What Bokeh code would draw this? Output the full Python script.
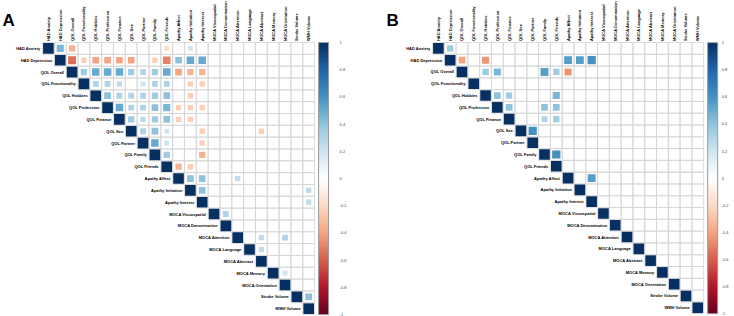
import numpy as np
from bokeh.plotting import figure
from bokeh.layouts import row
from bokeh.models import (ColumnDataSource, LinearColorMapper, ColorBar, FixedTicker,
                          Label, Range1d, CustomJSTickFormatter)
from bokeh.core.properties import value
from bokeh.embed import file_html
from bokeh.resources import INLINE

# ---------------- data ----------------
VARIABLES = ["HAD Anxiety", "HAD Depression", "QOL Overall", "QOL Functionality",
             "QOL Hobbies", "QOL Profession", "QOL Finance", "QOL Sex", "QOL Partner",
             "QOL Family", "QOL Friends", "Apathy Affect", "Apathy Initiation",
             "Apathy Interest", "MOCA Visuospatial", "MOCA Denomination", "MOCA Attention",
             "MOCA Language", "MOCA Abstract", "MOCA Memory", "MOCA Orientation",
             "Stroke Volume", "WMH Volume"]

# significant correlations (row variable, column variable, r) - panel A
A_CORR = [
    ("HAD Anxiety", "HAD Depression", 0.45), ("HAD Anxiety", "QOL Overall", -0.35),
    ("HAD Anxiety", "QOL Friends", -0.2), ("HAD Anxiety", "Apathy Initiation", 0.2),
    ("HAD Depression", "QOL Overall", -0.55), ("HAD Depression", "QOL Functionality", -0.25),
    ("HAD Depression", "QOL Hobbies", -0.4), ("HAD Depression", "QOL Profession", -0.4),
    ("HAD Depression", "QOL Finance", -0.4), ("HAD Depression", "QOL Sex", -0.4),
    ("HAD Depression", "QOL Family", -0.25), ("HAD Depression", "QOL Friends", -0.5),
    ("HAD Depression", "Apathy Affect", 0.4), ("HAD Depression", "Apathy Initiation", 0.5),
    ("HAD Depression", "Apathy Interest", 0.5),
    ("QOL Overall", "QOL Functionality", 0.35), ("QOL Overall", "QOL Hobbies", 0.5),
    ("QOL Overall", "QOL Profession", 0.5), ("QOL Overall", "QOL Finance", 0.5),
    ("QOL Overall", "QOL Sex", 0.35), ("QOL Overall", "QOL Partner", 0.3),
    ("QOL Overall", "QOL Family", 0.35), ("QOL Overall", "QOL Friends", 0.5),
    ("QOL Overall", "Apathy Affect", -0.4), ("QOL Overall", "Apathy Initiation", -0.35),
    ("QOL Overall", "Apathy Interest", -0.35),
    ("QOL Functionality", "QOL Hobbies", 0.3), ("QOL Functionality", "QOL Profession", 0.3),
    ("QOL Functionality", "QOL Finance", 0.25), ("QOL Functionality", "QOL Partner", 0.2),
    ("QOL Functionality", "QOL Family", 0.3), ("QOL Functionality", "QOL Friends", 0.3),
    ("QOL Functionality", "Apathy Initiation", -0.25), ("QOL Functionality", "Apathy Interest", -0.25),
    ("QOL Hobbies", "QOL Profession", 0.4), ("QOL Hobbies", "QOL Finance", 0.3),
    ("QOL Hobbies", "QOL Sex", 0.3), ("QOL Hobbies", "QOL Partner", 0.3),
    ("QOL Hobbies", "QOL Family", 0.35), ("QOL Hobbies", "QOL Friends", 0.4),
    ("QOL Hobbies", "Apathy Initiation", -0.25),
    ("QOL Profession", "QOL Finance", 0.5), ("QOL Profession", "QOL Sex", 0.3),
    ("QOL Profession", "QOL Partner", 0.3), ("QOL Profession", "QOL Family", 0.4),
    ("QOL Profession", "QOL Friends", 0.45), ("QOL Profession", "Apathy Affect", -0.25),
    ("QOL Profession", "Apathy Initiation", -0.25), ("QOL Profession", "Apathy Interest", -0.25),
    ("QOL Finance", "QOL Sex", 0.35), ("QOL Finance", "QOL Partner", 0.25),
    ("QOL Finance", "QOL Family", 0.35), ("QOL Finance", "QOL Friends", 0.4),
    ("QOL Finance", "Apathy Affect", -0.25), ("QOL Finance", "Apathy Initiation", -0.25),
    ("QOL Sex", "QOL Partner", 0.3), ("QOL Sex", "QOL Family", 0.4),
    ("QOL Sex", "QOL Friends", 0.2), ("QOL Sex", "Apathy Interest", -0.25),
    ("QOL Sex", "MOCA Abstract", -0.25),
    ("QOL Partner", "QOL Family", 0.5), ("QOL Partner", "QOL Friends", 0.2),
    ("QOL Partner", "Apathy Interest", -0.25),
    ("QOL Family", "QOL Friends", 0.35), ("QOL Family", "Apathy Interest", -0.35),
    ("QOL Friends", "Apathy Affect", -0.35), ("QOL Friends", "Apathy Initiation", -0.25),
    ("Apathy Affect", "Apathy Initiation", 0.4), ("Apathy Affect", "Apathy Interest", 0.4),
    ("Apathy Affect", "MOCA Attention", 0.25),
    ("Apathy Initiation", "Apathy Interest", 0.4), ("Apathy Initiation", "WMH Volume", 0.25),
    ("Apathy Interest", "WMH Volume", 0.25),
    ("MOCA Visuospatial", "MOCA Denomination", 0.3),
    ("MOCA Attention", "MOCA Abstract", 0.25), ("MOCA Attention", "MOCA Orientation", 0.3),
    ("MOCA Language", "MOCA Abstract", 0.25),
    ("MOCA Memory", "MOCA Orientation", 0.2),
    ("Stroke Volume", "WMH Volume", 0.4),
]

# significant correlations - panel B
B_CORR = [
    ("HAD Anxiety", "HAD Depression", 0.35),
    ("HAD Depression", "QOL Overall", -0.4), ("HAD Depression", "QOL Hobbies", -0.45),
    ("HAD Depression", "Apathy Affect", 0.55), ("HAD Depression", "Apathy Initiation", 0.55),
    ("HAD Depression", "Apathy Interest", 0.6),
    ("QOL Overall", "QOL Hobbies", 0.35), ("QOL Overall", "QOL Profession", 0.45),
    ("QOL Overall", "QOL Family", 0.55), ("QOL Overall", "QOL Friends", 0.35),
    ("QOL Overall", "Apathy Affect", -0.45),
    ("QOL Hobbies", "QOL Profession", 0.4), ("QOL Hobbies", "QOL Finance", 0.35),
    ("QOL Hobbies", "QOL Friends", 0.45),
    ("QOL Profession", "QOL Finance", 0.4), ("QOL Profession", "QOL Family", 0.4),
    ("QOL Profession", "QOL Friends", 0.4),
    ("QOL Finance", "QOL Family", 0.3), ("QOL Finance", "QOL Friends", 0.35),
    ("QOL Sex", "QOL Partner", 0.6),
    ("QOL Family", "QOL Friends", 0.6),
    ("Apathy Affect", "Apathy Interest", 0.55),
]

CBAR_TICKS = [-1, -0.8, -0.6, -0.4, -0.2, 0, 0.2, 0.4, 0.6, 0.8, 1]
PANEL_TAGS = ["A", "B"]

# ---------------- style ----------------
RDBU = ["#67001F", "#B2182B", "#D6604D", "#F4A582", "#FDDBC7", "#FFFFFF",
        "#D1E5F0", "#92C5DE", "#4393C3", "#2166AC", "#053061"]


def interp_palette(colors, n):
    rgb = np.array([[int(c[i:i + 2], 16) for i in (1, 3, 5)] for c in colors], dtype=float)
    pos = np.linspace(0, 1, len(colors))
    t = np.linspace(0, 1, n)
    out = []
    for ti in t:
        r = [np.interp(ti, pos, rgb[:, k]) for k in range(3)]
        out.append("#%02x%02x%02x" % tuple(int(round(v)) for v in r))
    return out


PALETTE = interp_palette(RDBU, 200)
FONT = "Liberation Sans"
LABEL_SIZE = "4px"
H = 316
TOP = 42
GRID_COLOR = "#D4D4D4"


def make_panel(tag, corr, width, left, cell, standoff):
    n = len(VARIABLES)
    idx = {v: i for i, v in enumerate(VARIABLES)}
    x0 = -left / cell - 0.5
    x1 = (width - left) / cell - 0.5
    y_top = -TOP / cell - 0.5
    y_bot = (H - TOP) / cell - 0.5
    p = figure(width=width, height=H, x_range=Range1d(x0, x1), y_range=Range1d(y_bot, y_top),
               output_backend="svg", toolbar_location=None, min_border=0,
               outline_line_color=None, x_axis_location=None, y_axis_location=None)
    p.grid.visible = False
    p.background_fill_color = "white"
    p.border_fill_color = "white"

    mapper = LinearColorMapper(palette=PALETTE, low=-1, high=1)

    # grid of the upper triangle
    gx, gy = [], []
    for i in range(n):
        for j in range(i, n):
            gx.append(j)
            gy.append(i)
    p.rect(x=gx, y=gy, width=1, height=1, fill_color=None, line_color=GRID_COLOR, line_width=0.8)

    # squares
    rows = [idx[v] for v in VARIABLES] + [idx[a] for a, b, r in corr]
    cols = [idx[v] for v in VARIABLES] + [idx[b] for a, b, r in corr]
    vals = [1.0] * n + [r for a, b, r in corr]
    src = ColumnDataSource(dict(x=cols, y=rows, v=vals,
                                s=[0.9 * np.sqrt(abs(v)) for v in vals]))
    p.rect(x="x", y="y", width="s", height="s", source=src,
           fill_color={"field": "v", "transform": mapper}, line_color=None)

    # row labels along the diagonal
    p.text(x=[i - 0.68 for i in range(n)], y=list(range(n)), text=VARIABLES,
           text_font=value(FONT), text_font_size=LABEL_SIZE, text_font_style="bold",
           text_align="right", text_baseline="middle", text_color="black")
    # column labels on top
    p.text(x=list(range(n)), y=[-0.62] * n, text=VARIABLES, angle=np.pi / 2,
           text_font=value(FONT), text_font_size=LABEL_SIZE, text_font_style="bold",
           text_align="left", text_baseline="middle", text_color="black")

    cb = ColorBar(color_mapper=mapper, width=10, height=int(round(n * cell)),
                  location=(left + n * cell + 4, H - (TOP + n * cell)),
                  padding=0, margin=0,
                  ticker=FixedTicker(ticks=CBAR_TICKS),
                  formatter=CustomJSTickFormatter(code="return String(Math.round(tick*10)/10)"),
                  major_label_text_font=FONT, major_label_text_font_size="4px",
                  major_tick_line_color=None, minor_tick_line_color=None,
                  major_tick_out=0, major_tick_in=0, label_standoff=standoff,
                  bar_line_color="#9A9A9A", background_fill_alpha=0,
                  border_line_color=None)
    p.add_layout(cb)

    p.add_layout(Label(x=2, y=H - 19.5, x_units="screen", y_units="screen", text=tag,
                       text_font=FONT, text_font_size="17px", text_font_style="bold",
                       text_baseline="alphabetic", text_color="black"))
    return p


pa = make_panel(PANEL_TAGS[0], A_CORR, 384, 42, 11.83, 11)
pb = make_panel(PANEL_TAGS[1], B_CORR, 350, 48, 11.79, 4)
layout = row(pa, pb, spacing=0)

open("out.html", "w").write(file_html(layout, INLINE))
